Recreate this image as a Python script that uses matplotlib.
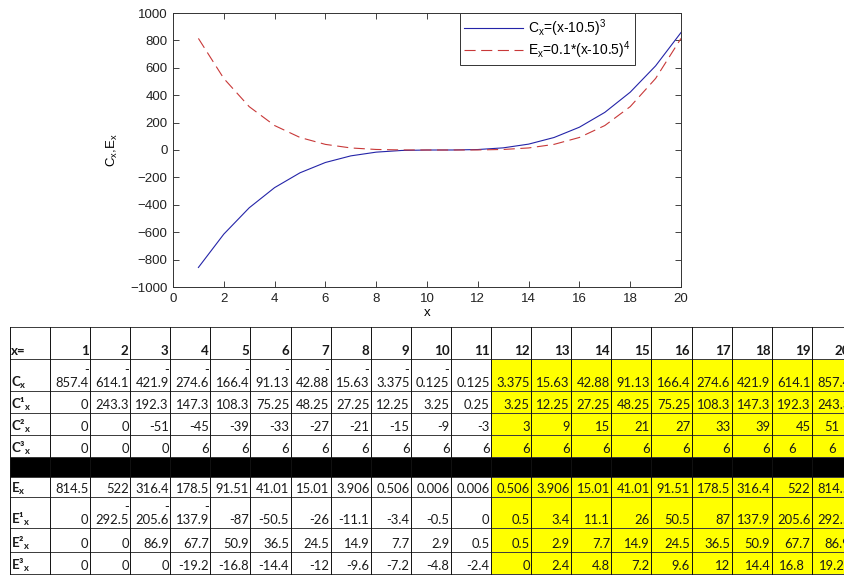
import matplotlib
matplotlib.use('Agg')
import matplotlib.pyplot as plt
from matplotlib.patches import Rectangle

plt.rcParams['font.family'] = ['Liberation Sans', 'DejaVu Sans']
plt.rcParams['mathtext.fontset'] = 'custom'
plt.rcParams['mathtext.rm'] = 'Liberation Sans'
plt.rcParams['mathtext.bf'] = 'Lato:bold'

x = list(range(1, 21))
c_x = [-857.4, -614.1, -421.9, -274.6, -166.4, -91.13, -42.88, -15.63, -3.375, -0.125,
       0.125, 3.375, 15.63, 42.88, 91.13, 166.4, 274.6, 421.9, 614.1, 857.4]
c1_x = [0, 243.3, 192.3, 147.3, 108.3, 75.25, 48.25, 27.25, 12.25, 3.25,
        0.25, 3.25, 12.25, 27.25, 48.25, 75.25, 108.3, 147.3, 192.3, 243.3]
c2_x = [0, 0, -51, -45, -39, -33, -27, -21, -15, -9,
        -3, 3, 9, 15, 21, 27, 33, 39, 45, 51]
c3_x = [0, 0, 0, 6, 6, 6, 6, 6, 6, 6, 6, 6, 6, 6, 6, 6, 6, 6, 6, 6]
e_x = [814.5, 522, 316.4, 178.5, 91.51, 41.01, 15.01, 3.906, 0.506, 0.006,
       0.006, 0.506, 3.906, 15.01, 41.01, 91.51, 178.5, 316.4, 522, 814.5]
e1_x = [0, -292.5, -205.6, -137.9, -87, -50.5, -26, -11.1, -3.4, -0.5,
        0, 0.5, 3.4, 11.1, 26, 50.5, 87, 137.9, 205.6, 292.5]
e2_x = [0, 0, 86.9, 67.7, 50.9, 36.5, 24.5, 14.9, 7.7, 2.9,
        0.5, 0.5, 2.9, 7.7, 14.9, 24.5, 36.5, 50.9, 67.7, 86.9]
e3_x = [0, 0, 0, -19.2, -16.8, -14.4, -12, -9.6, -7.2, -4.8,
        -2.4, 0, 2.4, 4.8, 7.2, 9.6, 12, 14.4, 16.8, 19.2]

c_rows = [c_x, c1_x, c2_x, c3_x]
e_rows = [e_x, e1_x, e2_x, e3_x]
c_names = ['C$_\\mathbf{x}$', 'C¹$_\\mathbf{x}$', 'C²$_\\mathbf{x}$', 'C³$_\\mathbf{x}$']
e_names = ['E$_\\mathbf{x}$', 'E¹$_\\mathbf{x}$', 'E²$_\\mathbf{x}$', 'E³$_\\mathbf{x}$']

fig = plt.figure(figsize=(8.45, 5.75), dpi=100)

# ---- spreadsheet part, drawn in pixel coordinates ----
tab = fig.add_axes([0, 0, 1, 1])
tab.set_xlim(0, 845)
tab.set_ylim(575, 0)
tab.axis('off')

left = 10
first_w = 40
col_w = 40.1
row_edges = [327, 359, 391, 413, 435, 457, 477, 497, 528, 552, 574]
yellow_from = 12
centered = {(2, 20), (3, 19), (3, 20), (7, 19), (7, 20)}

def col_right(k):
    return left + first_w + col_w * k

# yellow block
x0 = col_right(yellow_from - 1)
tab.add_patch(Rectangle((x0, row_edges[1]), 900 - x0, row_edges[5] - row_edges[1],
                        color='#ffff00', lw=0))
tab.add_patch(Rectangle((x0, row_edges[6]), 900 - x0, row_edges[10] - row_edges[6],
                        color='#ffff00', lw=0))

# grid
for y in row_edges:
    tab.plot([left, 900], [y, y], color='#3a3a3a', lw=0.7)
for k in range(0, 21):
    xx = col_right(k)
    tab.plot([xx, xx], [row_edges[0], row_edges[-1]], color='#111111', lw=0.7)
tab.plot([left, left], [row_edges[0], row_edges[-1]], color='#111111', lw=0.7)

# black separator row
tab.add_patch(Rectangle((left, row_edges[5]), 900, row_edges[6] - row_edges[5],
                        color='black', lw=0))

num_font = dict(family='Lato', fontsize=9.4, color='#1a1a1a')
lab_font = dict(family='Lato', fontsize=9.6, fontweight='bold', color='#1a1a1a')

# header row
tab.text(left + 1, row_edges[1] - 4, 'x=', ha='left', va='baseline', **lab_font)
for k, v in enumerate(x, start=1):
    tab.text(col_right(k) - 1.5, row_edges[1] - 4, str(v), ha='right', va='baseline', **lab_font)

table_rows = list(zip(c_names, c_rows)) + list(zip(e_names, e_rows))
slots = [1, 2, 3, 4, 6, 7, 8, 9]
for r, ((name, vals), slot) in enumerate(zip(table_rows, slots)):
    base = row_edges[slot + 1] - 4
    tab.text(left + 1, base, name, ha='left', va='baseline', **lab_font)
    for k, v in enumerate(vals, start=1):
        s = '{:g}'.format(v)
        if v < 0 and len(s) > 5:
            s = '-\n' + s[1:]
        if (r, k) in centered:
            tab.text((col_right(k - 1) + col_right(k)) / 2, base, s, ha='center',
                     va='baseline', **num_font)
        else:
            tab.text(col_right(k) - 1.5, base, s, ha='right', va='baseline',
                     multialignment='right', linespacing=1.05, **num_font)

# ---- line chart ----
ax = fig.add_axes([173 / 845, 1 - 287 / 575, 508 / 845, 274 / 575])
ax.plot(x, c_x, color='#2424a8', lw=0.8, label='C$_\\mathrm{x}$=(x-10.5)$^\\mathrm{3}$')
ax.plot(x, e_x, color='#c83838', lw=0.8, dashes=(10, 5),
        label='E$_\\mathrm{x}$=0.1*(x-10.5)$^\\mathrm{4}$')
ax.set_xlim(0, 20)
ax.set_ylim(-1000, 1000)
ax.set_xticks(range(0, 21, 2))
ax.set_yticks(range(-1000, 1001, 200))
ax.tick_params(direction='in', top=True, right=True, length=4, width=0.6,
               labelsize=9.5, pad=4, colors='#222222')
for sp in ax.spines.values():
    sp.set_linewidth(0.7)
    sp.set_color('#333333')
ax.set_xlabel('x', fontsize=9.5, labelpad=2)
ax.set_ylabel('C$_\\mathrm{x}$,E$_\\mathrm{x}$', fontsize=9.5, labelpad=7)

leg = ax.legend(loc='upper right', bbox_to_anchor=(0.909, 1.0), borderaxespad=0,
                fontsize=10, handlelength=4.2, handletextpad=0.4, fancybox=False,
                framealpha=1, edgecolor='#333333', borderpad=0.3, labelspacing=0.05)
leg.get_frame().set_linewidth(0.7)

fig.savefig('out.png', dpi=100)
